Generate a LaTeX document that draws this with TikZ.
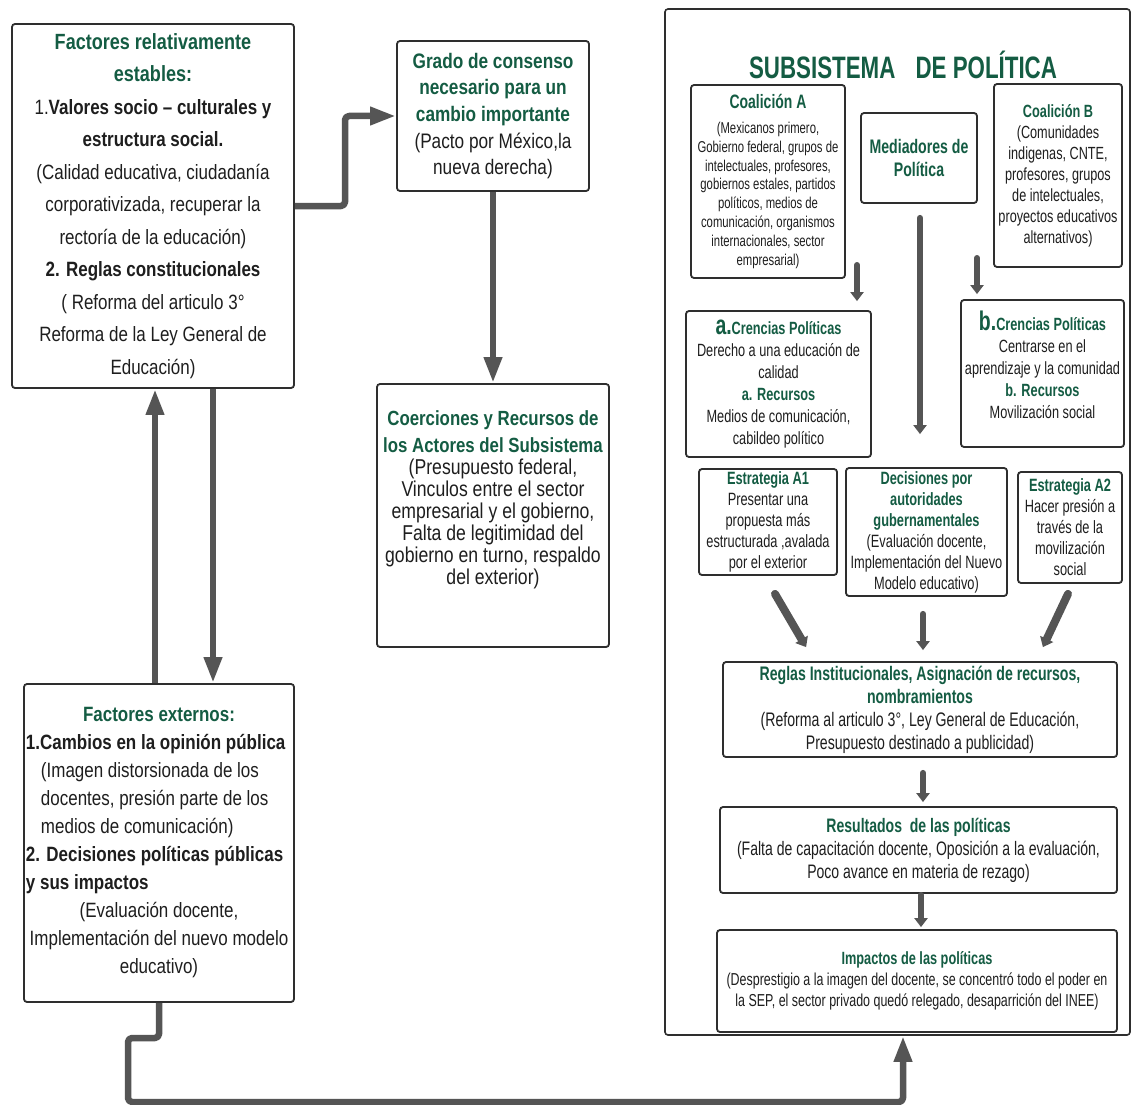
\documentclass[tikz,border=0pt]{standalone}
\usepackage{fontspec}
\setmainfont{Liberation Sans}[FakeStretch=0.82]
\newfontfamily\nar{Liberation Sans}[FakeStretch=0.72]
\usetikzlibrary{arrows.meta,calc}
\definecolor{cgreen}{HTML}{145C43}
\definecolor{ctext}{HTML}{1E1E1E}
\definecolor{cline}{HTML}{2E2E2E}
\definecolor{carrow}{HTML}{555555}
\newcommand\fsz[2]{\fontsize{#1}{#2}\selectfont}
\newcommand\gr[1]{{\color{cgreen}\bfseries #1}}
\begin{document}
\begin{tikzpicture}[x=1pt,y=-1pt,
 box/.style={draw=cline, line width=1.8pt, rounded corners=3pt, fill=white, text=ctext, inner sep=2pt, align=center},
 conn/.style={draw=carrow, line width=6.5pt, rounded corners=4pt, line join=round, -{Triangle[length=26pt,width=17pt]}},
 sarr/.style={draw=carrow, line width=6pt, line cap=round, -{Triangle[length=9pt,width=13pt]}},
 darr/.style={draw=carrow, line width=8pt, line cap=round, -{Triangle[length=9pt,width=14pt]}},
]
\useasboundingbox (0,0) rectangle (1132,1105);
\fill[white] (0,0) rectangle (1132,1105);

% subsystem frame
\node[draw=cline, line width=1.6pt, rounded corners=3pt, minimum width=465pt, minimum height=1026pt, inner sep=0pt] (sub) at (897.5,522) {};
\node[text=cgreen, font=\nar\bfseries\fsz{31}{31}] (title) at (903,65) {SUBSISTEMA\hspace{14pt} DE POLÍTICA};

% left column
\node[box, minimum width=282pt, minimum height=364pt, font=\fsz{20.7}{32.5}] (tl) at (153,206) {%
\gr{\fsz{22}{32.5}Factores relativamente}\\
\gr{\fsz{22}{32.5}estables:}\\
1.\textbf{Valores socio – culturales y}\\
\textbf{estructura social.}\\
(Calidad educativa, ciudadanía\\
corporativizada, recuperar la\\
rectoría de la educación)\\
\textbf{2. Reglas constitucionales}\\
( Reforma del articulo 3°\\
Reforma de la Ley General de\\
Educación)};

\node[box, minimum width=192pt, minimum height=150pt, font=\fsz{21}{26.7}] (grado) at (493,116) {\gr{Grado de consenso}\\ \gr{necesario para un}\\ \gr{cambio importante}\\ (Pacto por México,la\\ nueva derecha)};

\node[box, minimum width=232pt, minimum height=263pt, font=\fsz{21.5}{22}] (coer) at (493,515.5) {\gr{\fsz{20.5}{22}Coerciones y Recursos de}\\[5pt] \gr{\fsz{20.5}{22}los Actores del Subsistema}\\ (Presupuesto federal,\\ Vinculos entre el sector\\ empresarial y el gobierno,\\ Falta de legitimidad del\\ gobierno en turno, respaldo\\ del exterior)\\[14pt]\mbox{}};

\node[box, align=none, minimum width=270pt, minimum height=318pt, text width=266pt, font=\fsz{20.7}{28}] (ext) at (159,843) {\parindent=0pt\raggedright
{\centering\gr{Factores externos:}\par}
\textbf{1.Cambios en la opinión pública}\par
\hspace*{15pt}(Imagen distorsionada de los\par
\hspace*{15pt}docentes, presión parte de los\par
\hspace*{15pt}medios de comunicación)\par
\textbf{2. Decisiones políticas públicas}\par
\textbf{y sus impactos}\par
{\centering (Evaluación docente,\par Implementación del nuevo modelo\par educativo)\par}};

% right column
\node[box, minimum width=154pt, minimum height=193pt, font=\nar\fsz{15.7}{18.8}] (coalA) at (768,181.5) {\gr{\fsz{19.4}{18.8}Coalición A}\\[6pt] (Mexicanos primero,\\ Gobierno federal, grupos de\\ intelectuales, profesores,\\ gobiernos estales, partidos\\ políticos, medios de\\ comunicación, organismos\\ internacionales, sector\\ empresarial)};

\node[box, minimum width=116pt, minimum height=90pt, font=\nar\fsz{19.6}{23}] (med) at (919,158) {\gr{Mediadores de}\\ \gr{Política}};

\node[box, minimum width=128pt, minimum height=183pt, font=\nar\fsz{17.6}{21}] (coalB) at (1058,175.5) {\gr{\fsz{17.7}{21}Coalición B}\\ (Comunidades\\ indigenas, CNTE,\\ profesores, grupos\\ de intelectuales,\\ proyectos educativos\\ alternativos)};

\node[box, minimum width=185pt, minimum height=146pt, font=\nar\fsz{17.7}{22}] (abox) at (778.5,384) {\gr{{\fsz{27}{22}a.}Crencias Políticas}\\ Derecho a una educación de\\ calidad\\ \gr{a. Recursos}\\ Medios de comunicación,\\ cabildeo político};

\node[box, minimum width=163pt, minimum height=147pt, font=\nar\fsz{17.7}{22}] (bbox) at (1042.5,373.5) {\gr{{\fsz{27}{22}b.}Crencias Políticas}\\ Centrarse en el\\ aprendizaje y la comunidad\\ \gr{b. Recursos}\\ Movilización social\\[-4pt]\mbox{}};

\node[box, minimum width=138pt, minimum height=106pt, font=\nar\fsz{17.8}{21}] (estA1) at (768,522) {\gr{Estrategia A1}\\ Presentar una\\ propuesta más\\ estructurada ,avalada\\ por el exterior};

\node[box, minimum width=161pt, minimum height=128pt, font=\nar\fsz{17.8}{21}] (dec) at (926.5,532) {\gr{Decisiones por}\\ \gr{autoridades}\\ \gr{gubernamentales}\\ (Evaluación docente,\\ Implementación del Nuevo\\ Modelo educativo)};

\node[box, minimum width=104pt, minimum height=111pt, font=\nar\fsz{17.8}{21}] (estA2) at (1070,527.5) {\gr{Estrategia A2}\\ Hacer presión a\\ través de la\\ movilización\\ social};

\node[box, minimum width=394pt, minimum height=95pt, font=\nar\fsz{19.6}{23}] (reglas) at (920,709.5) {\gr{Reglas Institucionales, Asignación de recursos,}\\ \gr{nombramientos}\\ (Reforma al articulo 3°, Ley General de Educación,\\ Presupuesto destinado a publicidad)};

\node[box, minimum width=397pt, minimum height=86pt, font=\nar\fsz{19.5}{23}] (result) at (918.5,850) {\gr{Resultados \ de las políticas}\\ (Falta de capacitación docente, Oposición a la evaluación,\\ Poco avance en materia de rezago)};

\node[box, minimum width=400pt, minimum height=102pt, font=\nar\fsz{17.3}{21}] (impact) at (917,981) {\gr{\fsz{17.7}{21}Impactos de las políticas}\\ (Desprestigio a la imagen del docente, se concentró todo el poder en\\ la SEP, el sector privado quedó relegado, desaparrición del INEE)};

% connectors (left)
\coordinate (j1) at (345,117);
\draw[conn] (tl.east) -- (tl.east -| j1) |- (grado.west);
\draw[conn] (grado.south) -- (coer.north);
\coordinate (xu) at (155,0);
\coordinate (xd) at (213,0);
\draw[conn] (xu |- ext.north) -- (xu |- tl.south);
\draw[conn] (xd |- tl.south) -- (xd |- ext.north);
\coordinate (k1) at (128,1038);
\coordinate (k2) at (903,1102);
\draw[conn] (ext.south) |- (k1) |- (k2) -- (k2 |- sub.south);

% connectors (right)
\coordinate (a1) at (857,265);
\draw[sarr] (a1) -- ($(a1 |- abox.north)+(0,-9)$);
\draw[sarr] ($(med.south)+(1,14)$) -- ($(dec.north)+(-6.5,-33)$);
\coordinate (b1) at (977,258);
\draw[sarr] (b1) -- ($(b1 |- bbox.north)+(0,-5)$);
\draw[darr] ($(estA1.south)+(7,18)$) -- ($(reglas.north west)+(84,-14)$);
\draw[sarr] ($(dec.south)+(-3.5,17)$) -- ($(reglas.north)+(3,-11)$);
\draw[darr] ($(estA2.south)+(-2,10)$) -- ($(reglas.north east)+(-75,-14)$);
\draw[sarr] ($(reglas.south)+(3,15)$) -- ($(result.north)+(4.5,-4)$);
\draw[sarr] ($(result.south)+(2.5,1)$) -- ($(impact.north)+(4,-2)$);
\end{tikzpicture}
\end{document}
